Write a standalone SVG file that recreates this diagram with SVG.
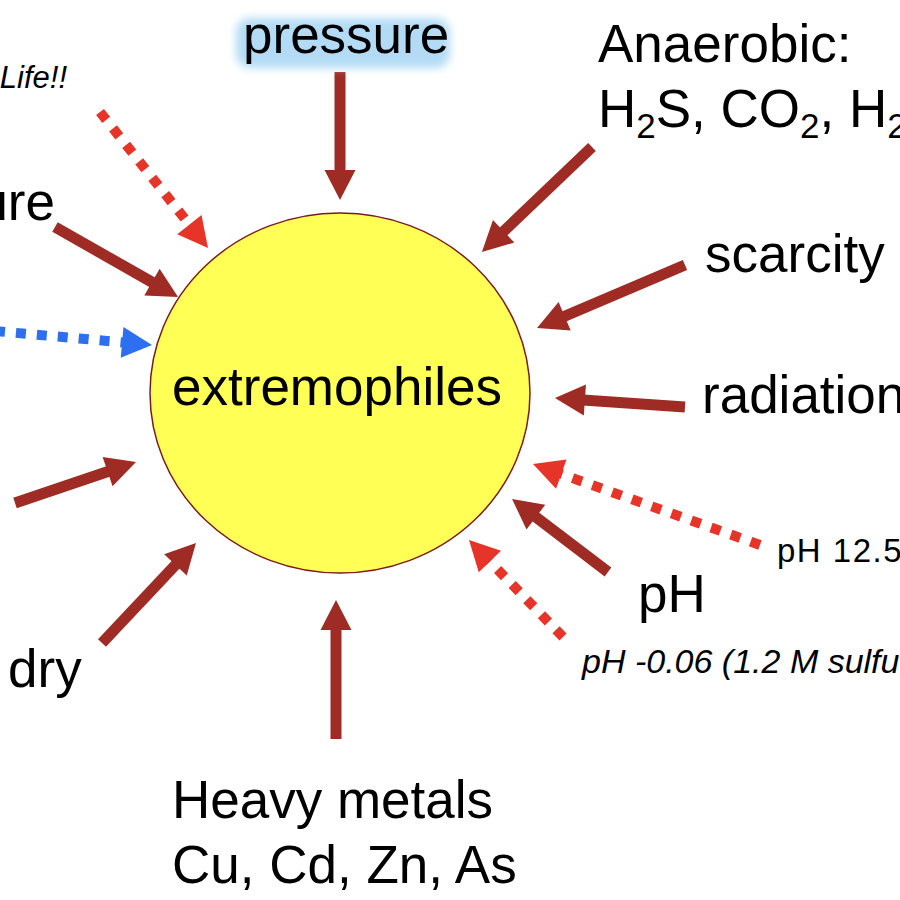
<svg xmlns="http://www.w3.org/2000/svg" width="900" height="900" viewBox="0 0 900 900">
<defs>
<style>
.t{font-family:"Liberation Sans",Arial,sans-serif;fill:#000}
.big{font-size:53px}
.it{font-size:31px;font-style:italic}
.sm{font-size:33px;letter-spacing:1.5px}
.solid{stroke:#9f2b25;stroke-width:11;fill:none;marker-end:url(#hd)}
.dr{stroke:#e63528;stroke-width:10;stroke-dasharray:10 11;fill:none;marker-end:url(#hr)}
.db{stroke:#2e6ff0;stroke-width:10;stroke-dasharray:10 11;fill:none;marker-end:url(#hb)}
</style>
<marker id="hd" markerUnits="userSpaceOnUse" markerWidth="60" markerHeight="60" refX="0" refY="0" orient="auto" overflow="visible"><path d="M-2,-15.5 L28,0 L-2,15.5 Z" fill="#9f2b25"/></marker>
<marker id="hr" markerUnits="userSpaceOnUse" markerWidth="60" markerHeight="60" refX="0" refY="0" orient="auto" overflow="visible"><path d="M-2,-15.5 L28,0 L-2,15.5 Z" fill="#e63528"/></marker>
<marker id="hb" markerUnits="userSpaceOnUse" markerWidth="60" markerHeight="60" refX="0" refY="0" orient="auto" overflow="visible"><path d="M-2,-15.5 L28,0 L-2,15.5 Z" fill="#2e6ff0"/></marker>
<filter id="glow" x="-20%" y="-40%" width="140%" height="180%"><feGaussianBlur stdDeviation="4"/></filter>
</defs>
<rect width="900" height="900" fill="#fff"/>
<g id="connectors">
<line class="solid" x1="340" y1="72" x2="340" y2="172"/>
<line class="solid" x1="592" y1="147" x2="502.2" y2="232.7"/>
<line class="solid" x1="685" y1="265" x2="562.8" y2="317"/>
<line class="solid" x1="685" y1="407" x2="582.9" y2="399.9"/>
<line class="solid" x1="608" y1="572" x2="534.3" y2="515.9"/>
<line class="solid" x1="336" y1="739" x2="336" y2="628"/>
<line class="solid" x1="102" y1="643" x2="176.8" y2="563.4"/>
<line class="solid" x1="15" y1="503" x2="109.5" y2="471"/>
<line class="solid" x1="55" y1="227" x2="153.7" y2="283.1"/>
<line class="dr" x1="100" y1="112" x2="190.6" y2="226.1"/>
<line class="db" x1="-5" y1="331" x2="124.1" y2="342.5"/>
<line class="dr" x1="760" y1="545" x2="559.4" y2="473.4"/>
<line class="dr" x1="563" y1="637" x2="488.5" y2="560.1"/>
</g>
<g id="extremophiles">
<ellipse cx="340" cy="393" rx="190" ry="180" fill="#ffff55" stroke="#7b1c1c" stroke-width="1.5"/>
<text class="t big" x="337" y="405" text-anchor="middle">extremophiles</text>
</g>
<g id="pressure">
<rect x="236" y="18" width="214" height="50" rx="14" fill="#b3dbf5" filter="url(#glow)"/>
<text class="t big" x="243" y="53">pressure</text>
</g>
<g id="anaerobic">
<text class="t big" x="598" y="62">Anaerobic:</text>
<text class="t big" x="598" y="127">H<tspan font-size="35" dy="11">2</tspan><tspan dy="-11">S, CO</tspan><tspan font-size="35" dy="11">2</tspan><tspan dy="-11">, H</tspan><tspan font-size="35" dy="11">2</tspan></text>
</g>
<g id="scarcity"><text class="t big" x="705" y="272">scarcity</text></g>
<g id="radiation"><text class="t big" x="702" y="413">radiation</text></g>
<g id="ph"><text class="t big" x="638" y="612">pH</text></g>
<g id="ph125"><text class="t sm" x="777" y="562">pH 12.5</text></g>
<g id="phneg"><text class="t it" x="582" y="673" style="font-size:34px">pH -0.06 (1.2 M sulfuric acid)</text></g>
<g id="heavy">
<text class="t big" x="172" y="818">Heavy metals</text>
<text class="t big" x="172" y="883">Cu, Cd, Zn, As</text>
</g>
<g id="dry"><text class="t big" x="8" y="687">dry</text></g>
<g id="temperature"><text class="t big" x="55" y="220" text-anchor="end">ure</text></g>
<g id="life"><text class="t it" x="67" y="88" text-anchor="end">Life!!</text></g>
</svg>
